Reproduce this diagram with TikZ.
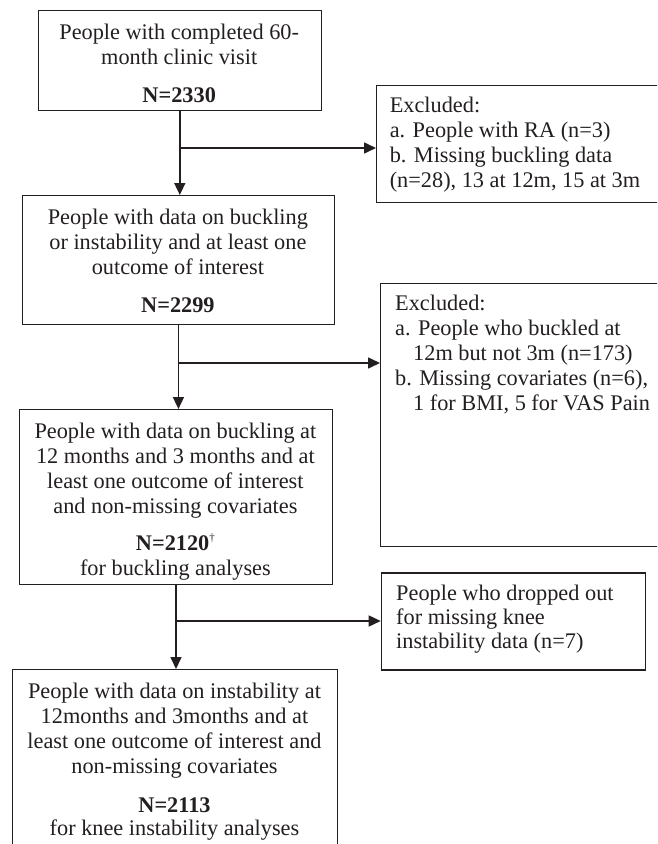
\documentclass[tikz,border=0pt]{standalone}
\usepackage{fontspec}
\setmainfont{Liberation Serif}
\usetikzlibrary{arrows.meta}
\definecolor{ink}{HTML}{231F20}
\tikzset{
  fbox/.style={draw=ink, line width=1.2pt, rectangle, inner sep=0pt, anchor=north west},
  ctext/.style={anchor=north, inner sep=0pt, align=center, text=ink, font=\fontsize{22.3}{25}\selectfont},
  ltext/.style={anchor=north west, inner sep=0pt, align=left, text=ink, font=\fontsize{22.3}{25}\selectfont},
  flow/.style={draw=ink, line width=1.6pt},
  arr/.style={flow, -{Triangle[length=12pt,width=11pt]}}
}
\newcommand{\dagmark}{\raisebox{9pt}{\fontsize{11}{11}\selectfont †}}
\begin{document}
\begin{tikzpicture}[x=1pt, y=-1pt]
\useasboundingbox (0,0) rectangle (657,844);
\fill[white] (0,0) rectangle (657,844);
\clip (0,0) rectangle (657,844);

% main boxes
\node[fbox, minimum width=283pt, minimum height=100pt] (b1) at (37.7,10) {};
\node[ctext] (t1) at (179.2,21.5) {\strut People with completed 60-\\month clinic visit\\[13pt]\textbf{N=2330}};

\node[fbox, minimum width=312.3pt, minimum height=129pt] (b2) at (21.7,195) {};
\node[ctext] (t2) at (177.9,206.5) {\strut People with data on buckling\\or instability and at least one\\outcome of interest\\[13pt]\textbf{N=2299}};

\node[fbox, minimum width=312.8pt, minimum height=175pt] (b3) at (19,409) {};
\node[ctext] (t3) at (175.4,420.5) {\strut People with data on buckling at\\12 months and 3 months and at\\least one outcome of interest\\and non-missing covariates\\[12pt]\textbf{N=2120}\dagmark\\for buckling analyses};

\node[fbox, minimum width=325.5pt, minimum height=190pt] (b4) at (11.7,669) {};
\node[ctext] (t4) at (174.5,680.5) {\strut People with data on instability at\\12months and 3months and at\\least one outcome of interest and\\non-missing covariates\\[14pt]\textbf{N=2113}\\[-2pt]for knee instability analyses};

% exclusion boxes
\node[fbox, minimum width=300pt, minimum height=117pt] (e1) at (376,85) {};
\node[ltext] (s1) at (389.6,95) {\strut Excluded:\\a. People with RA (n=3)\\b. Missing buckling data\\(n=28), 13 at 12m, 15 at 3m};

\node[fbox, minimum width=300pt, minimum height=263pt] (e2) at (380,282.7) {};
\node[ltext] (s2) at (395,292.5) {\strut Excluded:\\a. People who buckled at\\\hspace*{18pt}12m but not 3m (n=173)\\b. Missing covariates (n=6),\\\hspace*{18pt}1 for BMI, 5 for VAS Pain};

\node[fbox, minimum width=264.3pt, minimum height=97pt] (e3) at (380.7,572.3) {};
\node[ltext, font=\fontsize{22.3}{24}\selectfont] (s3) at (396,583.2) {\strut People who dropped out\\for missing knee\\instability data (n=7)};

% connectors
\coordinate (j1) at (179.2,148);
\coordinate (j2) at (177.9,363);
\coordinate (j3) at (175.4,621);
\draw[arr] (b1.south) -- (b1.south |- b2.north);
\draw[arr] (j1) -- (j1 -| e1.west);
\draw[arr] (b2.south) -- (b2.south |- b3.north);
\draw[arr] (j2) -- (j2 -| e2.west);
\draw[arr] (b3.south) -- (b3.south |- b4.north);
\draw[arr] (j3) -- (j3 -| e3.west);
\end{tikzpicture}
\end{document}
